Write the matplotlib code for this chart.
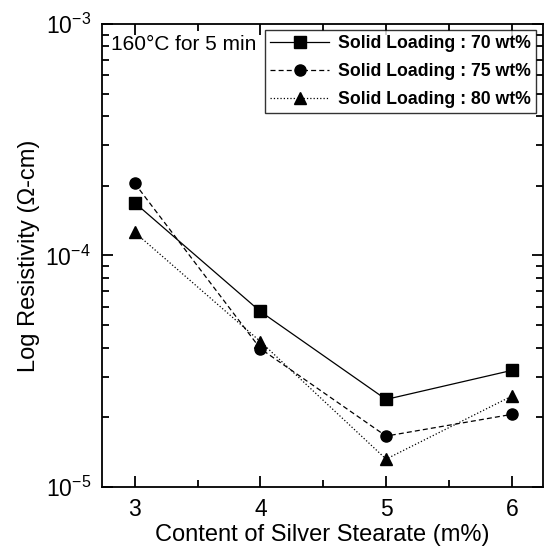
import matplotlib
matplotlib.use("Agg")
import matplotlib.pyplot as plt
from matplotlib.ticker import MultipleLocator, LogLocator, NullFormatter

plt.rcParams['font.family'] = ['Liberation Sans', 'DejaVu Sans']

# content of silver stearate (m%)
x = [3, 4, 5, 6]
# resistivity (ohm-cm) for each solid loading
r70 = [1.69e-4, 5.73e-5, 2.39e-5, 3.19e-5]
r75 = [2.05e-4, 3.96e-5, 1.66e-5, 2.06e-5]
r80 = [1.26e-4, 4.25e-5, 1.32e-5, 2.47e-5]
labels = ["Solid Loading : 70 wt%", "Solid Loading : 75 wt%", "Solid Loading : 80 wt%"]

fig = plt.figure(figsize=(5.44, 5.56), dpi=100)
ax = fig.add_axes([0.1875, 0.124, 0.811, 0.833])

ax.plot(x, r70, "s-", color="black", lw=0.9, ms=8, label=labels[0])
ax.plot(x, r75, "o--", color="black", lw=0.9, ms=8, label=labels[1], dashes=(4, 2.5))
ax.plot(x, r80, "^:", color="black", lw=0.9, ms=8, label=labels[2])

ax.set_yscale("log")
ax.set_ylim(1e-5, 1e-3)
ax.set_xlim(2.74, 6.25)
ax.xaxis.set_major_locator(MultipleLocator(1))
ax.xaxis.set_minor_locator(MultipleLocator(0.5))
ax.yaxis.set_major_locator(LogLocator(base=10))
ax.yaxis.set_minor_locator(LogLocator(base=10, subs=range(2, 10)))
ax.yaxis.set_minor_formatter(NullFormatter())

ax.tick_params(which="both", direction="in", top=True, right=True, labelsize=16.5, width=1.3)
ax.tick_params(which="major", length=8, pad=8)
ax.tick_params(which="minor", length=5)
for s in ax.spines.values():
    s.set_linewidth(1.3)

ax.set_xlabel("Content of Silver Stearate (m%)", fontsize=17, labelpad=2)
ax.set_ylabel("Log Resistivity (\u03a9-cm)", fontsize=17, labelpad=4)

ax.text(0.02, 0.975, "160\u00b0C for 5 min", transform=ax.transAxes, fontsize=15, va="top", ha="left")

leg = ax.legend(loc="upper right", bbox_to_anchor=(0.983, 0.987), prop={"weight": "bold", "size": 12.7},
                frameon=True, fancybox=False, edgecolor="black", handlelength=3.3,
                borderpad=0.3, labelspacing=0.62, handletextpad=0.5, borderaxespad=0)
leg.get_frame().set_linewidth(1.0)

fig.savefig("out.png", dpi=100)
